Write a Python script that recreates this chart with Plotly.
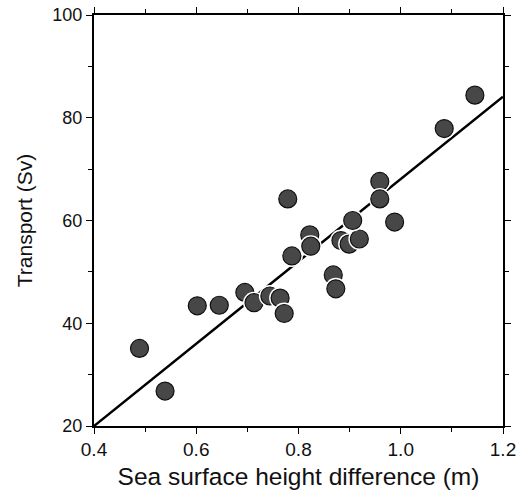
import plotly.graph_objects as go

# Data
ssh_diff = [0.489, 0.539, 0.602, 0.645, 0.695, 0.713, 0.744, 0.764, 0.772, 0.787,
            0.779, 0.822, 0.824, 0.868, 0.873, 0.883, 0.899, 0.919, 0.906, 0.959,
            0.959, 0.988, 1.085, 1.145]
transport = [35.1, 26.8, 43.4, 43.5, 46.0, 44.0, 45.3, 44.9, 41.9, 53.1,
             64.2, 57.2, 55.0, 49.4, 46.7, 56.1, 55.4, 56.4, 60.0, 67.6,
             64.2, 59.7, 77.9, 84.4]
fit_x = [0.4, 1.2]
fit_y = [20.0, 84.1]

x_ticks = [0.4, 0.6, 0.8, 1.0, 1.2]
x_ticklabels = ["0.4", "0.6", "0.8", "1.0", "1.2"]
y_ticks = [20, 40, 60, 80, 100]

fig = go.Figure()
fig.add_trace(go.Scatter(x=fit_x, y=fit_y, mode="lines",
                         line=dict(color="black", width=2.5),
                         showlegend=False, hoverinfo="skip"))
for xi, yi in zip(ssh_diff, transport):
    fig.add_trace(go.Scatter(x=[xi], y=[yi], mode="markers",
                             marker=dict(size=22, color="white", line=dict(width=0)),
                             showlegend=False, hoverinfo="skip"))
    fig.add_trace(go.Scatter(x=[xi], y=[yi], mode="markers",
                             marker=dict(size=18, color="#474747",
                                         line=dict(color="#111111", width=1.2)),
                             showlegend=False))

axis_common = dict(showline=True, linecolor="black", linewidth=2, mirror="ticks",
                   ticks="outside", ticklen=6, tickwidth=1.2, tickcolor="black",
                   showgrid=False, zeroline=False, automargin=False,
                   ticklabeloverflow="allow",
                   minor=dict(ticks="outside", ticklen=4, tickwidth=1, tickcolor="black"))

fig.update_xaxes(range=[0.4, 1.2], tickvals=x_ticks, ticktext=x_ticklabels,
                 minor_dtick=0.1, ticklabelstandoff=-1,
                 title=dict(text="Sea surface height difference (m)",
                            font=dict(size=24.5, color="#111"), standoff=9),
                 tickfont=dict(size=19, color="#111"), **axis_common)
fig.update_yaxes(range=[20, 100], tickvals=y_ticks,
                 minor_dtick=10, ticklabelstandoff=0,
                 title=dict(text="Transport (Sv)", font=dict(size=21, color="#111"), standoff=14),
                 tickfont=dict(size=18, color="#111"), **axis_common)

fig.update_layout(width=521, height=496, plot_bgcolor="white", paper_bgcolor="white",
                  margin=dict(l=94, r=18, t=15, b=70),
                  font=dict(family="Liberation Sans, Arial, Helvetica, sans-serif"))

# remove the default 8px page margin so the figure fills the window exactly
fig.write_html("out.html", config={"displayModeBar": False},
               post_script="document.body.style.margin='0px';")
